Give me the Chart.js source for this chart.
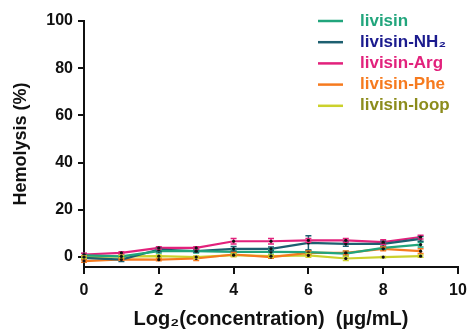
<!DOCTYPE html>
<html>
<head>
<meta charset="utf-8">
<script src="https://cdn.jsdelivr.net/npm/chart.js@4.4.1/dist/chart.umd.min.js"></script>
<style>
  html, body { margin: 0; padding: 0; background: #fff; }
  #wrap { width: 468px; height: 334px; }
</style>
</head>
<body>
<div id="wrap"><canvas id="hemo" width="468" height="334"></canvas></div>
<script>
// log2 concentration
const xValues = [0, 1, 2, 3, 4, 5, 6, 7, 8, 9];
const yTicks = [0, 20, 40, 60, 80, 100];
const xTicks = [0, 2, 4, 6, 8, 10];

const names = ["livisin", "livisin-NH\u2082", "livisin-Arg", "livisin-Phe", "livisin-loop"];
const livisin     = [0.7, 0.3, 2.5, 2.5, 2.2, 2.2, 2.1, 1.5, 3.9, 5.3];
const livisinNH2  = [-0.3, -1.1, 3.2, 2.5, 3.5, 3.5, 6.0, 5.6, 5.6, 7.7];
const livisinArg  = [1.1, 1.8, 3.9, 3.9, 6.7, 6.7, 7.1, 7.1, 6.3, 8.5];
const livisinPhe  = [-1.7, -1.0, -1.1, -0.6, 1.1, 0.0, 1.8, 1.8, 3.5, 2.5];
const livisinLoop = [0.0, 0.3, 0.4, 0.0, 0.8, 0.4, 0.7, -0.6, 0.0, 0.4];

const errLivisin = [0.8, 0.5, 0.8, 0.8, 0.8, 1.0, 0.8, 1.0, 0.8, 1.0];
const errNH2     = [0.5, 0.8, 0.8, 0.5, 1.0, 0.8, 3.0, 1.0, 1.2, 1.0];
const errArg     = [0.5, 0.5, 0.5, 0.5, 1.2, 1.2, 0.8, 0.8, 1.0, 0.8];
const errPhe     = [0.5, 0.3, 0.5, 0.8, 0.8, 0.5, 0.8, 0.8, 0.8, 1.0];
const errLoop    = [0.5, 0.5, 0.5, 0.5, 0.5, 0.5, 0.8, 0.8, 0.3, 0.5];

const lineColors = ["#21a57c", "#1d5f70", "#e2217c", "#f67a1e", "#cbd12c"];
const textColors = ["#21a57c", "#1b1b8e", "#e2217c", "#f67a1e", "#8c8c1c"];

const FONT = "'Liberation Sans', Arial, sans-serif";

function series(vals) {
  return vals.map(function (v, i) { return { x: xValues[i], y: v }; });
}

const allVals = [livisin, livisinNH2, livisinArg, livisinPhe, livisinLoop];
const allErrs = [errLivisin, errNH2, errArg, errPhe, errLoop];

// error bars drawn through the scales
const errorBars = {
  id: 'errorBars',
  afterDatasetsDraw(chart) {
    const ctx = chart.ctx, xs = chart.scales.x, ys = chart.scales.y;
    ctx.save();
    ctx.lineWidth = 1.5;
    allVals.forEach(function (vals, d) {
      ctx.strokeStyle = lineColors[d];
      vals.forEach(function (v, i) {
        const e = allErrs[d][i];
        const px = xs.getPixelForValue(xValues[i]);
        const top = ys.getPixelForValue(v + e);
        const bot = ys.getPixelForValue(v - e);
        ctx.beginPath();
        ctx.moveTo(px, top); ctx.lineTo(px, bot);
        ctx.moveTo(px - 3, top); ctx.lineTo(px + 3, top);
        ctx.moveTo(px - 3, bot); ctx.lineTo(px + 3, bot);
        ctx.stroke();
        ctx.fillStyle = '#111';
        ctx.beginPath();
        ctx.arc(px, ys.getPixelForValue(v), 1.6, 0, Math.PI * 2);
        ctx.fill();
      });
    });
    ctx.restore();
  }
};

// legend at top right, line swatches and coloured labels
const sideLegend = {
  id: 'sideLegend',
  afterDraw(chart) {
    const ctx = chart.ctx;
    ctx.save();
    ctx.font = "bold 17px " + FONT;
    ctx.textBaseline = 'middle';
    names.forEach(function (n, i) {
      const y = 21 + i * 21.2;
      ctx.strokeStyle = lineColors[i];
      ctx.lineWidth = 2.5;
      ctx.beginPath();
      ctx.moveTo(318, y); ctx.lineTo(343, y);
      ctx.stroke();
      ctx.fillStyle = textColors[i];
      ctx.fillText(n, 360, y);
    });
    ctx.restore();
  }
};

new Chart("hemo", {
  type: "line",
  data: {
    datasets: allVals.map(function (vals, i) {
      return {
        label: names[i],
        data: series(vals),
        borderColor: lineColors[i],
        borderWidth: 2.2,
        pointRadius: 0,
        tension: 0,
        clip: false
      };
    })
  },
  options: {
    responsive: false,
    animation: false,
    layout: { padding: { top: 21, right: 10, left: 0, bottom: 0 } },
    plugins: {
      legend: { display: false },
      tooltip: { enabled: false }
    },
    scales: {
      x: {
        type: 'linear',
        min: 0, max: 10,
        afterBuildTicks: function (s) { s.ticks = xTicks.map(function (v) { return { value: v }; }); },
        afterFit: function (s) { s.height = 67; s.paddingRight = 0; s.paddingLeft = 0; },
        grid: { display: true, drawOnChartArea: false, drawTicks: true, tickLength: 7, color: '#111', lineWidth: 2 },
        border: { display: true, color: '#111', width: 2 },
        ticks: { color: '#111', font: { family: FONT, size: 16, weight: 'bold' }, padding: 7, maxRotation: 0 },
        title: {
          display: true,
          text: "Log\u2082(concentration)  (\u00b5g/mL)",
          color: '#111',
          font: { family: FONT, size: 20, weight: 'bold' },
          padding: { top: 2, bottom: 3 }
        }
      },
      y: {
        min: -4.2, max: 100,
        afterBuildTicks: function (s) { s.ticks = yTicks.map(function (v) { return { value: v }; }); },
        afterFit: function (s) { s.width = 84; },
        grid: { display: true, drawOnChartArea: false, drawTicks: true, tickLength: 6, color: '#111', lineWidth: 2 },
        border: { display: true, color: '#111', width: 2 },
        ticks: { color: '#111', font: { family: FONT, size: 16, weight: 'bold' }, padding: 5 },
        title: {
          display: true,
          text: "Hemolysis (%)",
          color: '#111',
          font: { family: FONT, size: 18, weight: 'bold' },
          padding: { top: 10, bottom: 4 }
        }
      }
    }
  },
  plugins: [errorBars, sideLegend]
});
</script>
</body>
</html>
